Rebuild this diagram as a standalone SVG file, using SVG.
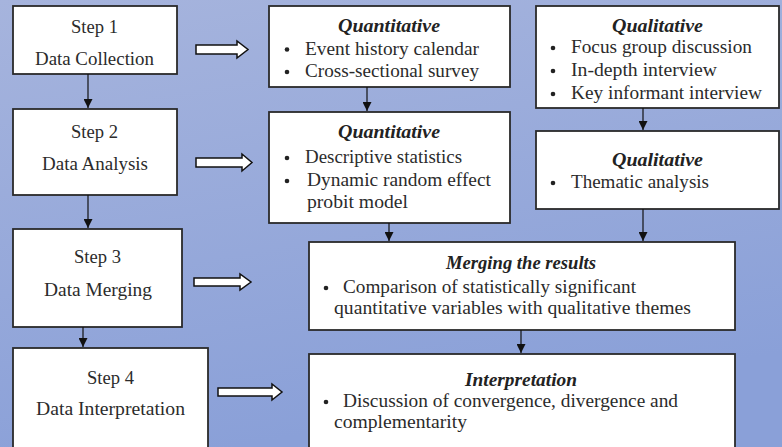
<svg xmlns="http://www.w3.org/2000/svg" width="782" height="447" viewBox="0 0 782 447">
<defs>
<linearGradient id="bg" x1="0" y1="0" x2="0.3" y2="1">
<stop offset="0" stop-color="#a6b4dd"/>
<stop offset="1" stop-color="#8aa0d8"/>
</linearGradient>
<marker id="ah" viewBox="0 0 10 10" refX="10" refY="5" markerWidth="9" markerHeight="9" markerUnits="userSpaceOnUse" orient="auto">
<path d="M0,0 L10,5 L0,10 Z" fill="#111"/>
</marker>
<style>
.box{fill:#fff;stroke:#2a2a2a;stroke-width:1.8}
text{font-family:'Liberation Serif','Times New Roman',serif;font-size:18.5px;fill:#2b2b2b}
.h{font-style:italic;font-weight:bold;fill:#222}
.b{fill:#222}
.ln{stroke:#111;stroke-width:1.2;fill:none;marker-end:url(#ah)}
.ba{fill:#fff;stroke:#111;stroke-width:1.5;stroke-linejoin:miter}
</style>
</defs>
<rect x="0" y="0" width="782" height="447" fill="url(#bg)"/>

<g id="step1">
<rect class="box" x="13" y="6" width="164" height="68"/>
<text x="71" y="32.5" textLength="47" lengthAdjust="spacingAndGlyphs">Step 1</text>
<text x="35" y="65" textLength="119" lengthAdjust="spacingAndGlyphs">Data Collection</text>
</g>
<g id="step2">
<rect class="box" x="13" y="109" width="164" height="86"/>
<text x="71" y="138" textLength="47" lengthAdjust="spacingAndGlyphs">Step 2</text>
<text x="42" y="170" textLength="106" lengthAdjust="spacingAndGlyphs">Data Analysis</text>
</g>
<g id="step3">
<rect class="box" x="13" y="229" width="169" height="98"/>
<text x="74" y="263" textLength="47" lengthAdjust="spacingAndGlyphs">Step 3</text>
<text x="44" y="296" textLength="108" lengthAdjust="spacingAndGlyphs">Data Merging</text>
</g>
<g id="step4">
<rect class="box" x="13" y="348" width="195" height="110"/>
<text x="87" y="384" textLength="47" lengthAdjust="spacingAndGlyphs">Step 4</text>
<text x="36" y="415" textLength="149" lengthAdjust="spacingAndGlyphs">Data Interpretation</text>
</g>

<g id="quant1">
<rect class="box" x="269" y="6" width="241" height="81"/>
<text class="h" x="338" y="32" textLength="102" lengthAdjust="spacingAndGlyphs">Quantitative</text>
<circle class="b" cx="287" cy="49.5" r="2.3"/>
<text x="305" y="55" textLength="174" lengthAdjust="spacingAndGlyphs">Event history calendar</text>
<circle class="b" cx="287" cy="72" r="2.3"/>
<text x="305" y="77" textLength="174" lengthAdjust="spacingAndGlyphs">Cross-sectional survey</text>
</g>
<g id="quant2">
<rect class="box" x="269" y="112" width="241" height="111"/>
<text class="h" x="338" y="138" textLength="102" lengthAdjust="spacingAndGlyphs">Quantitative</text>
<circle class="b" cx="287" cy="158" r="2.3"/>
<text x="305" y="163" textLength="157" lengthAdjust="spacingAndGlyphs">Descriptive statistics</text>
<circle class="b" cx="287" cy="181" r="2.3"/>
<text x="307" y="186" textLength="184" lengthAdjust="spacingAndGlyphs">Dynamic random effect</text>
<text x="307" y="208" textLength="101" lengthAdjust="spacingAndGlyphs">probit model</text>
</g>
<g id="qual1">
<rect class="box" x="536" y="6" width="243" height="102"/>
<text class="h" x="612" y="32" textLength="91" lengthAdjust="spacingAndGlyphs">Qualitative</text>
<circle class="b" cx="553" cy="48" r="2.3"/>
<text x="571" y="53" textLength="181" lengthAdjust="spacingAndGlyphs">Focus group discussion</text>
<circle class="b" cx="553" cy="71" r="2.3"/>
<text x="571" y="76" textLength="146" lengthAdjust="spacingAndGlyphs">In-depth interview</text>
<circle class="b" cx="553" cy="94" r="2.3"/>
<text x="571" y="99" textLength="191" lengthAdjust="spacingAndGlyphs">Key informant interview</text>
</g>
<g id="qual2">
<rect class="box" x="536" y="131" width="243" height="78"/>
<text class="h" x="612" y="166" textLength="91" lengthAdjust="spacingAndGlyphs">Qualitative</text>
<circle class="b" cx="553" cy="183" r="2.3"/>
<text x="571" y="188" textLength="138" lengthAdjust="spacingAndGlyphs">Thematic analysis</text>
</g>
<g id="merging">
<rect class="box" x="309" y="242" width="426" height="88"/>
<text class="h" x="446" y="269" textLength="150" lengthAdjust="spacingAndGlyphs">Merging the results</text>
<circle class="b" cx="326" cy="288" r="2.3"/>
<text x="343" y="293" textLength="293" lengthAdjust="spacingAndGlyphs">Comparison of statistically significant</text>
<text x="334" y="314" textLength="357" lengthAdjust="spacingAndGlyphs">quantitative variables with qualitative themes</text>
</g>
<g id="interpretation">
<rect class="box" x="309" y="354" width="426" height="104"/>
<text class="h" x="465" y="386" textLength="112" lengthAdjust="spacingAndGlyphs">Interpretation</text>
<circle class="b" cx="326" cy="402" r="2.3"/>
<text x="343" y="407" textLength="335" lengthAdjust="spacingAndGlyphs">Discussion of convergence, divergence and</text>
<text x="334" y="428" textLength="133" lengthAdjust="spacingAndGlyphs">complementarity</text>
</g>

<g id="connectors">
<line class="ln" x1="88" y1="74" x2="88" y2="108"/>
<line class="ln" x1="88" y1="195" x2="88" y2="228"/>
<line class="ln" x1="83" y1="327" x2="83" y2="347"/>
<line class="ln" x1="367" y1="87" x2="367" y2="111"/>
<line class="ln" x1="643" y1="108" x2="643" y2="130"/>
<line class="ln" x1="389" y1="223" x2="389" y2="241"/>
<line class="ln" x1="643" y1="209" x2="643" y2="241"/>
<line class="ln" x1="521" y1="330" x2="521" y2="353"/>
<path class="ba" d="M196,45 L237,45 L237,41 L248,49.5 L237,58 L237,54 L196,54 Z"/>
<path class="ba" d="M196,158 L242,158 L242,154 L252,162.5 L242,171 L242,167 L196,167 Z"/>
<path class="ba" d="M194,278 L240,278 L240,274 L251,282 L240,290 L240,286 L194,286 Z"/>
<path class="ba" d="M218,388 L272,388 L272,384 L282,392 L272,400 L272,396 L218,396 Z"/>
</g>
</svg>
